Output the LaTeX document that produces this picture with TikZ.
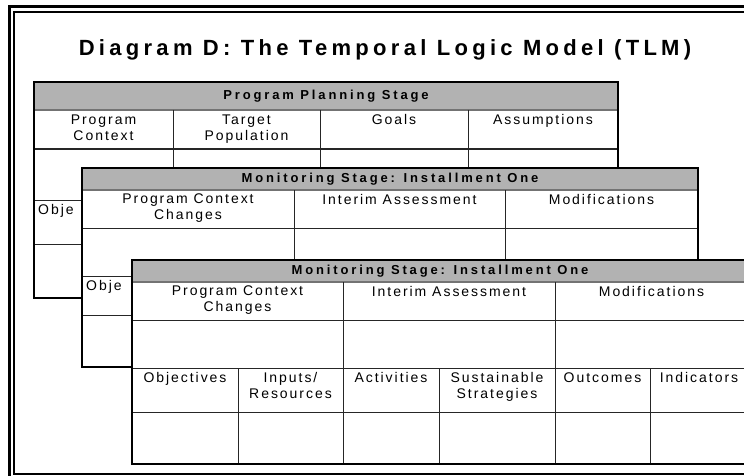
\documentclass[tikz,border=0pt]{standalone}
\usepackage{fontspec}
\setmainfont{Liberation Sans}
\newfontfamily\titlefont[LetterSpace=19.5]{Liberation Sans}
\newfontfamily\headfont[LetterSpace=22]{Liberation Sans}
\newfontfamily\cellfont[LetterSpace=14]{Liberation Sans}

\tikzset{
  tblframe/.style={line width=2.6pt},
  gridline/.style={line width=1pt, black!85},
  headband/.style={fill=black!30},
  headrule/.style={line width=1.2pt, black!55},
  headtext/.style={font=\fontsize{13}{15}\headfont\bfseries, inner sep=0pt},
  celltext/.style={font=\fontsize{14}{16}\cellfont, align=center, inner sep=0pt, anchor=north},
  cutoff/.style={font=\fontsize{14}{16}\cellfont, inner sep=0pt, anchor=north west},
}

\begin{document}
\begin{tikzpicture}[x=1pt, y=-1pt]
    \useasboundingbox (0,0) rectangle (744,476);
    \clip (0,0) rectangle (744,476);

    % Double frame round the page
    \draw[tblframe] (9.5,490) -- (9.5,6.5) -- (760,6.5);
    \draw[tblframe] (760,474) -- (14,474) -- (14,12) -- (760,12);

    % Title
    \node[font=\fontsize{22}{26}\titlefont\bfseries, inner sep=0pt, anchor=base] (title) at (385,56) {Diagram D: The Temporal Logic Model (TLM)};

    % Program Planning Stage (back sheet)
    \fill[white] (34,82) rectangle (618,298);
    \fill[headband] (34,82) rectangle (618,110);
    \draw[headrule] (34,110) -- (618,110);
    \foreach \y in {149, 200, 244}
        \draw[gridline] (34,\y) -- (618,\y);
    \foreach \x in {173, 320, 468}
        \draw[gridline] (\x,110) -- (\x,200);
    \draw[tblframe] (34,82) rectangle (618,298);
    \node[headtext] (planhead) at (326,96) {Program Planning Stage};
    \foreach \x/\lbl/\nm in {103.5/{Program\\Context}/plancontext, 246.5/{Target\\Population}/plantarget, 394/Goals/plangoals, 543/Assumptions/planassume}
        \node[celltext] (\nm) at (\x,114.5) {\lbl};
    \node[cutoff] (planobj) at (38,204.5) {Obje};

    % Monitoring Stage, first sheet
    \fill[white] (82,168) rectangle (698,367);
    \fill[headband] (82,168) rectangle (698,190);
    \draw[headrule] (82,190) -- (698,190);
    \foreach \y in {228, 276, 315}
        \draw[gridline] (82,\y) -- (698,\y);
    \foreach \x in {294, 505}
        \draw[gridline] (\x,190) -- (\x,276);
    \draw[tblframe] (82,168) rectangle (698,367);
    \node[headtext] (monahead) at (390,179) {Monitoring Stage: Installment One};
    \foreach \x/\lbl/\nm in {188/{Program Context\\Changes}/monacontext, 399.5/{Interim Assessment}/monainterim, 601.5/Modifications/monamods}
        \node[celltext] (\nm) at (\x,194) {\lbl};
    \node[cutoff] (monaobj) at (86,280) {Obje};

    % Monitoring Stage, front sheet
    \fill[white] (132,260) rectangle (748,464);
    \fill[headband] (132,260) rectangle (748,282);
    \draw[headrule] (132,282) -- (748,282);
    \foreach \y in {320, 368, 412}
        \draw[gridline] (132,\y) -- (748,\y);
    \foreach \x in {343, 555}
        \draw[gridline] (\x,282) -- (\x,368);
    \foreach \x in {238, 343, 439, 555, 650}
        \draw[gridline] (\x,368) -- (\x,464);
    \draw[tblframe] (132,260) rectangle (748,464);
    \node[headtext] (monbhead) at (440,271) {Monitoring Stage: Installment One};
    \foreach \x/\lbl/\nm in {237.5/{Program Context\\Changes}/monbcontext, 449/{Interim Assessment}/monbinterim, 651.5/Modifications/monbmods}
        \node[celltext] (\nm) at (\x,286) {\lbl};
    \foreach \x/\lbl/\nm in {185/Objectives/monbobj, 290.5/{Inputs/\\Resources}/monbinputs, 391/Activities/monbact, 497/{Sustainable\\Strategies}/monbsust, 602.5/Outcomes/monbout, 699/Indicators/monbind}
        \node[celltext] (\nm) at (\x,372.5) {\lbl};
\end{tikzpicture}
\end{document}
